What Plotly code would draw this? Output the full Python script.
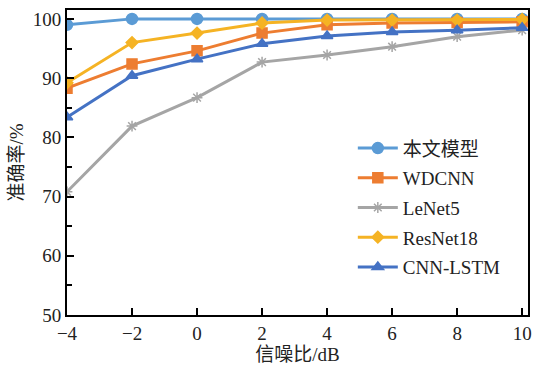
import plotly.graph_objects as go

snr = [-4, -2, 0, 2, 4, 6, 8, 10]
ours = [99.0, 100.0, 100.0, 100.0, 100.0, 100.0, 100.0, 100.0]
wdcnn = [88.3, 92.4, 94.6, 97.6, 99.0, 99.3, 99.4, 99.5]
lenet5 = [70.8, 81.9, 86.7, 92.7, 93.9, 95.3, 97.0, 98.1]
resnet18 = [89.2, 96.0, 97.6, 99.3, 99.8, 99.8, 99.8, 99.9]
cnnlstm = [83.4, 90.4, 93.2, 95.8, 97.1, 97.8, 98.1, 98.5]

names = ["本文模型", "WDCNN", "LeNet5", "ResNet18", "CNN-LSTM"]
colors = ["#5B9BD5", "#ED7D31", "#A5A5A5", "#F5B324", "#4472C4"]
symbols = ["circle", "square", "asterisk-open", "diamond", "triangle-up"]
sizes = [11, 10, 9, 9, 10]
series = [ours, wdcnn, lenet5, resnet18, cnnlstm]

fig = go.Figure()
for i, (name, ys, c, s, sz) in enumerate(zip(names, series, colors, symbols, sizes)):
    fig.add_trace(go.Scatter(
        x=snr, y=ys, name=name, mode="lines+markers", legendgroup=f"g{i}",
        line=dict(color=c, width=3),
        marker=dict(symbol=s, size=sz, color=c, line=dict(color=c, width=1.5)),
    ))

font = "Liberation Serif, Times New Roman, Noto Sans CJK SC, serif"
fig.update_layout(
    width=535, height=374,
    margin=dict(l=67, r=7, t=10, b=59),
    plot_bgcolor="white", paper_bgcolor="white",
    font=dict(family=font, size=19, color="#222"),
    legend=dict(x=0.62, y=0.609, xanchor="left", yanchor="top",
                bgcolor="rgba(255,255,255,0)", font=dict(size=19, family=font),
                tracegroupgap=2, itemwidth=40),
    showlegend=True,
)
fig.update_xaxes(
    range=[-4, 10.18], tickvals=snr, ticktext=["−4", "−2", "0", "2", "4", "6", "8", "10"],
    ticks="inside", ticklen=7, tickwidth=2, tickcolor="black",
    showline=True, linecolor="black", linewidth=2, mirror=True,
    showgrid=False, zeroline=False, automargin=False,
    title=dict(text="信噪比/dB", standoff=4, font=dict(size=19)),
)
fig.update_yaxes(
    range=[50, 101.5], tickvals=[50, 60, 70, 80, 90, 100],
    ticks="inside", ticklen=7, tickwidth=2, tickcolor="black",
    minor=dict(tickvals=[55, 65, 75, 85, 95], ticks="inside", ticklen=5, tickwidth=1.5, tickcolor="black"),
    showline=True, linecolor="black", linewidth=2, mirror=True,
    showgrid=False, zeroline=False, automargin=False,
    title=dict(text="准确率/%", standoff=4, font=dict(size=19)),
)

fig.write_html(
    "out.html",
    config={"displayModeBar": False},
    post_script="document.body.style.margin='0';document.body.style.overflow='hidden';",
)
